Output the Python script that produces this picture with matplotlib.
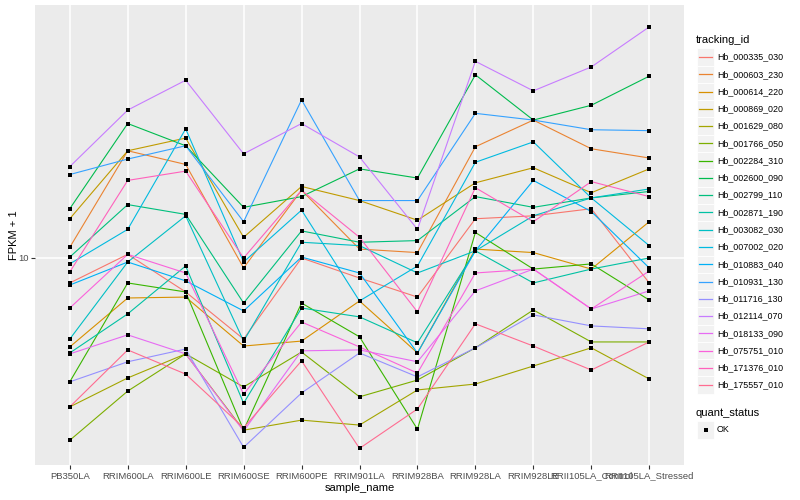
import numpy as np
import matplotlib.pyplot as plt
from matplotlib.lines import Line2D
from matplotlib.patches import Rectangle
from matplotlib.ticker import NullLocator

plt.rcParams['font.family'] = ['Liberation Sans', 'DejaVu Sans']

# échantillons (axe x)
samples = ['PB350LA', 'RRIM600LA', 'RRIM600LE', 'RRIM600SE', 'RRIM600PE',
           'RRIM901LA', 'RRIM928BA', 'RRIM928LA', 'RRIM928LE',
           'RRII105LA_Control', 'RRII105LA_Stressed']

tracking_ids = ['Hb_000335_030', 'Hb_000603_230', 'Hb_000614_220', 'Hb_000869_020',
                'Hb_001629_080', 'Hb_001766_050', 'Hb_002284_310', 'Hb_002600_090',
                'Hb_002799_110', 'Hb_002871_190', 'Hb_003082_030', 'Hb_007002_020',
                'Hb_010883_040', 'Hb_010931_130', 'Hb_011716_130', 'Hb_012114_070',
                'Hb_018133_090', 'Hb_075751_010', 'Hb_171376_010', 'Hb_175557_010']

# palette hue de ggplot pour 20 niveaux
colors = ['#F8766D', '#EA8331', '#D89000', '#C09B00', '#A3A500', '#7CAE00', '#39B600',
          '#00BB4E', '#00BF7D', '#00C1A3', '#00BFC4', '#00BAE0', '#00B0F6', '#35A2FF',
          '#9590FF', '#C77CFF', '#E76BF3', '#FA62DB', '#FF62BC', '#FF6C91']

# FPKM + 1 par gène, dans l'ordre des échantillons
hb_000335_030 = [8.72, 10.2, 8.30, 6.41, 10.0, 8.96, 8.07, 12.4, 12.6, 13.1, 8.72]
hb_000603_230 = [10.6, 18.0, 16.7, 9.47, 14.5, 10.5, 10.3, 18.4, 21.3, 18.2, 17.3]
hb_000614_220 = [6.14, 8.03, 8.07, 6.17, 6.34, 7.90, 5.94, 10.5, 10.3, 9.41, 12.2]
hb_000869_020 = [12.4, 18.0, 19.3, 11.2, 14.8, 13.7, 12.3, 15.1, 16.4, 14.3, 16.3]
hb_001629_080 = [4.42, 5.18, 5.91, 3.89, 4.11, 4.00, 4.85, 5.01, 5.53, 6.11, 5.15]
hb_001766_050 = [3.68, 4.82, 5.91, 4.93, 5.97, 4.67, 5.12, 6.11, 7.52, 6.31, 6.31]
hb_002284_310 = [5.07, 8.72, 8.30, 3.89, 7.81, 6.49, 3.91, 11.5, 9.41, 9.68, 7.94]
hb_002600_090 = [13.1, 20.9, 18.5, 13.2, 14.0, 16.3, 15.5, 27.3, 21.3, 23.1, 27.1]
hb_002799_110 = [10.05, 13.4, 12.7, 7.81, 11.6, 10.9, 11.0, 14.0, 13.2, 13.9, 14.4]
hb_002871_190 = [5.94, 7.36, 9.57, 4.51, 7.60, 7.24, 6.28, 10.4, 8.72, 9.41, 10.0]
hb_003082_030 = [6.41, 9.78, 12.6, 6.34, 10.9, 10.7, 9.21, 10.4, 12.6, 13.9, 14.6]
hb_007002_020 = [9.68, 11.7, 20.3, 9.78, 13.0, 7.90, 9.57, 16.9, 18.9, 13.9, 10.7]
hb_010883_040 = [8.62, 9.78, 8.82, 7.48, 10.05, 9.21, 5.94, 10.4, 15.3, 12.9, 9.47]
hb_010931_130 = [15.8, 17.2, 18.5, 12.2, 23.8, 13.7, 13.7, 22.1, 21.3, 20.2, 20.1]
hb_011716_130 = [5.07, 5.66, 6.07, 3.54, 4.77, 5.94, 5.21, 6.11, 7.32, 6.89, 6.78]
hb_012114_070 = [16.5, 22.5, 26.5, 17.7, 20.9, 17.4, 11.7, 29.4, 25.0, 28.5, 35.5]
hb_018133_090 = [5.91, 6.56, 5.91, 3.87, 6.01, 6.04, 5.66, 8.35, 9.41, 7.56, 8.35]
hb_075751_010 = [7.60, 10.2, 9.21, 4.74, 7.04, 6.14, 5.32, 9.21, 9.41, 7.56, 9.31]
hb_171376_010 = [9.26, 15.3, 16.1, 10.0, 14.5, 11.2, 7.44, 14.7, 12.2, 15.2, 14.0]
hb_175557_010 = [4.42, 6.04, 5.29, 3.94, 5.69, 3.52, 4.37, 6.97, 6.17, 5.41, 6.31]

values = [hb_000335_030, hb_000603_230, hb_000614_220, hb_000869_020, hb_001629_080,
          hb_001766_050, hb_002284_310, hb_002600_090, hb_002799_110, hb_002871_190,
          hb_003082_030, hb_007002_020, hb_010883_040, hb_010931_130, hb_011716_130,
          hb_012114_070, hb_018133_090, hb_075751_010, hb_171376_010, hb_175557_010]

W, H = 800, 500
fig = plt.figure(figsize=(8, 5), dpi=100)
ax = fig.add_axes([35 / W, 35 / H, 649 / W, 460 / H])
ax.set_facecolor('#EBEBEB')

x = np.arange(len(samples))
for vals, col in zip(values, colors):
    ax.plot(x, vals, color=col, lw=0.8, zorder=2)
for vals in values:
    ax.plot(x, vals, 's', color='black', ms=2.6, mew=0, zorder=3)

ax.set_yscale('log')
ax.set_ylim(10 ** 0.507, 10 ** 1.6024)
ax.set_xlim(-0.6, len(samples) - 0.4)

ax.set_yticks([10])
ax.set_yticklabels(['10'])
ax.yaxis.set_minor_locator(NullLocator())
ax.set_xticks(x)
ax.set_xticklabels(samples)

ax.grid(True, which='major', color='white', lw=1.1)
ax.set_axisbelow(True)
for s in ax.spines.values():
    s.set_visible(False)
ax.tick_params(length=2.7, width=0.8, color='#333333', labelcolor='#4D4D4D',
               labelsize=6.8, pad=2)

fig.text((35 + 649 / 2) / W, 1 - 488 / H, 'sample_name', ha='center', va='center', fontsize=8)
fig.text(14 / W, 1 - 235 / H, 'FPKM + 1', ha='center', va='center', rotation=90, fontsize=8)

# légende tracking_id
fig.text(696 / W, 1 - 40 / H, 'tracking_id', ha='left', va='center', fontsize=8)
step = 17.27
for i, (name, col) in enumerate(zip(tracking_ids, colors)):
    yc = 57 + i * step
    fig.patches.append(Rectangle((697 / W, 1 - (yc + step / 2) / H), step / W, step / H,
                                 transform=fig.transFigure, facecolor='#F2F2F2',
                                 edgecolor='white', lw=0.6))
    fig.lines.append(Line2D([699 / W, 712 / W], [1 - yc / H, 1 - yc / H],
                            transform=fig.transFigure, color=col, lw=0.9))
    fig.text(717 / W, 1 - yc / H, name, ha='left', va='center', fontsize=6.4)

# légende quant_status
fig.text(696 / W, 1 - 413 / H, 'quant_status', ha='left', va='center', fontsize=8)
yc = 430
fig.patches.append(Rectangle((697 / W, 1 - (yc + step / 2) / H), step / W, step / H,
                             transform=fig.transFigure, facecolor='#F2F2F2',
                             edgecolor='white', lw=0.6))
fig.lines.append(Line2D([705.5 / W], [1 - yc / H], transform=fig.transFigure,
                        marker='s', color='black', ms=2.6, mew=0))
fig.text(717 / W, 1 - yc / H, 'OK', ha='left', va='center', fontsize=6.4)

fig.savefig('out.png', dpi=100)
